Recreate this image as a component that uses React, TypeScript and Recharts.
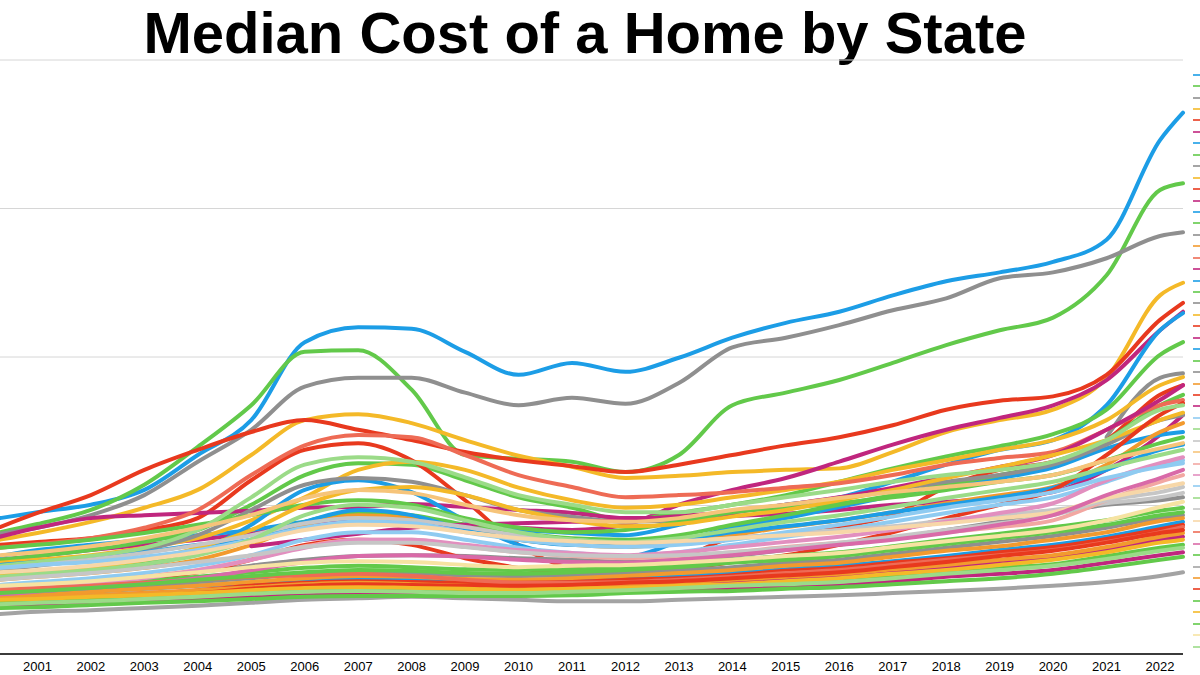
import { LineChart, Line, XAxis, YAxis, CartesianGrid } from "recharts";

// sample points: left edge, mid-year 2001..2022, right edge
const samplePoints = [
  2000.8, 2001.5, 2002.5, 2003.5, 2004.5, 2005.5, 2006.5, 2007.5, 2008.5, 2009.5, 2010.5, 2011.5,
  2012.5, 2013.5, 2014.5, 2015.5, 2016.5, 2017.5, 2018.5, 2019.5, 2020.5, 2021.5, 2022.5, 2022.93,
];
const yearTicks = [
  2001.5, 2002.5, 2003.5, 2004.5, 2005.5, 2006.5, 2007.5, 2008.5, 2009.5, 2010.5, 2011.5,
  2012.5, 2013.5, 2014.5, 2015.5, 2016.5, 2017.5, 2018.5, 2019.5, 2020.5, 2021.5, 2022.5,
];
const valueTicks = [0, 200, 400, 600, 800];

// median home value, $k
const hawaii = [183, 191, 201, 221, 268, 315, 420, 440, 438, 407, 376, 392, 380, 399, 426, 446, 461, 483, 502, 514, 528, 558, 692, 729];
const california = [164, 175, 194, 228, 279, 335, 407, 409, 356, 268, 263, 259, 245, 268, 335, 352, 369, 392, 416, 436, 453, 510, 625, 634];
const dc = [162, 170, 187, 214, 259, 302, 360, 372, 372, 352, 335, 345, 337, 365, 413, 426, 443, 463, 479, 506, 514, 533, 563, 568];
const massachusetts = [154, 163, 178, 197, 221, 268, 315, 323, 311, 288, 267, 252, 237, 240, 245, 248, 250, 272, 299, 315, 329, 372, 483, 500];
const washington = [171, 190, 214, 248, 275, 299, 315, 302, 288, 272, 261, 253, 245, 255, 268, 281, 292, 308, 329, 341, 347, 376, 450, 473];
const utah = [127, 132, 140, 147, 154, 163, 174, 180, 180, 174, 170, 167, 174, 201, 221, 237, 259, 282, 302, 318, 335, 369, 436, 461];
const colorado = [132, 140, 147, 154, 160, 167, 178, 183, 180, 170, 167, 163, 160, 174, 191, 201, 211, 232, 255, 275, 288, 335, 436, 459];
const oregon = [127, 132, 140, 151, 167, 201, 241, 257, 255, 234, 211, 197, 180, 190, 201, 214, 232, 250, 266, 280, 296, 329, 403, 420];
const montana = [null, null, null, null, null, null, null, null, null, null, null, null, null, null, null, null, null, null, null, null, null, 292, 372, 378];
const nevada = [147, 151, 156, 167, 183, 234, 275, 284, 261, 207, 147, 116, 110, 127, 156, 160, 171, 187, 225, 248, 259, 288, 349, 362];
const maryland = [143, 148, 156, 170, 194, 241, 281, 295, 292, 268, 241, 225, 211, 214, 218, 224, 230, 241, 255, 264, 272, 302, 335, 342];
const newMexico = [123, 127, 133, 143, 156, 180, 211, 248, 259, 248, 224, 207, 197, 201, 211, 221, 232, 248, 261, 275, 288, 315, 362, 373];
const connecticut = [119, 124, 132, 143, 167, 211, 255, 265, 259, 238, 214, 201, 191, 191, 201, 211, 221, 232, 241, 248, 259, 288, 329, 335];
const virginia = [113, 119, 127, 140, 160, 194, 228, 237, 232, 214, 194, 185, 178, 180, 191, 201, 210, 221, 232, 241, 255, 282, 315, 322];
const arizona = [102, 106, 113, 120, 137, 174, 221, 234, 218, 180, 147, 133, 131, 151, 170, 183, 198, 213, 228, 237, 251, 277, 295, 299];
const idaho = [null, null, null, null, null, 145, 154, 162, 170, 174, 176, 178, 180, 186, 191, 201, 211, 224, 238, 252, 268, 302, 342, 362];
const newHampshire = [106, 110, 116, 124, 136, 154, 178, 191, 187, 174, 163, 156, 154, 160, 174, 187, 201, 214, 228, 241, 257, 288, 335, 349];
const florida = [100, 104, 109, 116, 127, 147, 174, 187, 183, 167, 154, 147, 144, 151, 160, 171, 180, 191, 203, 214, 225, 255, 299, 311];
const newYork = [158, 170, 183, 187, 190, 193, 197, 198, 202, 198, 194, 190, 183, 183, 186, 189, 194, 201, 205, 210, 218, 248, 295, 322];
const delaware = [93, 97, 102, 109, 119, 133, 154, 164, 164, 154, 143, 136, 132, 137, 147, 158, 167, 178, 190, 201, 211, 232, 255, 261];
const newJersey = [143, 147, 154, 163, 174, 187, 201, 207, 201, 183, 170, 164, 167, 178, 191, 197, 203, 211, 221, 232, 241, 261, 284, 292];
const alaska = [133, 137, 145, 156, 170, 187, 210, 221, 217, 201, 187, 180, 178, 183, 194, 201, 210, 218, 225, 232, 241, 261, 277, 284];
const maine = [86, 90, 96, 102, 113, 127, 143, 154, 154, 147, 140, 136, 133, 137, 144, 151, 158, 167, 178, 190, 203, 234, 257, 265];
const vermont = [79, 84, 89, 94, 102, 113, 124, 132, 133, 131, 127, 124, 123, 127, 133, 140, 147, 154, 163, 174, 187, 214, 237, 248];
const minnesota = [89, 93, 97, 104, 113, 127, 145, 154, 154, 145, 137, 132, 129, 132, 137, 144, 150, 156, 164, 171, 180, 207, 232, 241];
const illinois = [110, 113, 119, 127, 137, 151, 167, 174, 172, 164, 156, 152, 150, 152, 156, 160, 164, 170, 176, 183, 191, 210, 224, 230];
const pennsylvania = [116, 120, 127, 136, 147, 160, 176, 183, 180, 171, 160, 154, 150, 151, 156, 162, 167, 172, 180, 187, 194, 203, 211, 217];
const wyoming = [86, 90, 96, 102, 110, 119, 127, 132, 133, 132, 129, 127, 124, 127, 132, 140, 147, 156, 167, 178, 189, 201, 207, 211];
const wisconsin = [116, 120, 124, 131, 140, 154, 170, 178, 176, 164, 154, 147, 144, 147, 154, 164, 174, 185, 197, 207, 218, 237, 252, 257];
const georgia = [104, 108, 113, 121, 133, 154, 187, 201, 197, 180, 164, 154, 151, 156, 167, 178, 187, 198, 210, 221, 232, 251, 268, 275];
const rhodeIsland = [106, 110, 117, 127, 143, 167, 201, 221, 225, 214, 194, 180, 172, 175, 185, 194, 207, 221, 237, 252, 268, 288, 315, 325];
const tennessee = [90, 93, 97, 102, 110, 127, 147, 154, 147, 129, 116, 106, 104, 113, 124, 133, 147, 164, 183, 201, 221, 268, 322, 338];
const michigan = [120, 124, 129, 137, 147, 154, 178, 194, 187, 167, 154, 147, 147, 154, 164, 172, 180, 191, 201, 211, 224, 248, 275, 282];
const texas = [100, 104, 109, 116, 124, 133, 144, 150, 150, 144, 137, 133, 132, 133, 137, 143, 150, 158, 167, 176, 187, 207, 218, 225];
const northCarolina = [86, 89, 93, 98, 104, 110, 116, 119, 117, 114, 113, 114, 117, 121, 127, 132, 137, 145, 154, 162, 171, 180, 193, 197];
const southDakota = [82, 85, 89, 94, 100, 105, 110, 113, 112, 109, 108, 110, 113, 117, 123, 127, 132, 140, 148, 156, 164, 174, 187, 191];
const northDakota = [92, 94, 98, 104, 110, 117, 123, 125, 124, 120, 117, 119, 120, 123, 127, 132, 136, 144, 152, 159, 167, 180, 198, 205];
const missouri = [81, 84, 88, 92, 97, 102, 108, 110, 109, 106, 105, 106, 109, 113, 117, 123, 127, 135, 143, 151, 159, 170, 183, 187];
const nebraska = [77, 79, 84, 88, 92, 97, 102, 105, 104, 101, 100, 102, 105, 109, 113, 119, 123, 131, 139, 145, 154, 164, 179, 183];
const kansas = [78, 81, 84, 88, 92, 96, 100, 102, 101, 98, 97, 100, 102, 105, 109, 114, 119, 125, 132, 140, 147, 158, 172, 178];
const indiana = [73, 75, 78, 82, 86, 92, 96, 98, 97, 96, 96, 97, 100, 102, 106, 112, 116, 123, 129, 137, 144, 155, 168, 174];
const southCarolina = [86, 89, 92, 96, 100, 104, 106, 108, 105, 100, 96, 96, 97, 100, 104, 109, 113, 120, 127, 133, 140, 151, 164, 171];
const iowa = [70, 73, 75, 78, 82, 88, 92, 94, 93, 92, 92, 93, 96, 98, 102, 106, 110, 117, 124, 132, 139, 150, 163, 167];
const louisiana = [75, 77, 79, 82, 86, 90, 94, 96, 94, 92, 90, 92, 93, 96, 100, 104, 108, 114, 120, 127, 133, 144, 158, 163];
const alabama = [66, 69, 71, 74, 78, 82, 86, 89, 88, 86, 86, 88, 90, 93, 97, 101, 105, 110, 117, 123, 129, 140, 154, 158];
const kentucky = [73, 74, 77, 79, 82, 86, 89, 90, 89, 88, 86, 88, 89, 92, 94, 98, 102, 108, 113, 120, 127, 137, 150, 154];
const ohio = [69, 70, 73, 75, 78, 82, 85, 86, 85, 84, 84, 85, 88, 90, 93, 97, 100, 105, 110, 116, 121, 132, 143, 147];
const oklahoma = [67, 69, 71, 74, 77, 81, 84, 85, 84, 82, 82, 84, 86, 89, 92, 94, 97, 102, 108, 113, 119, 128, 139, 143];
const arkansas = [63, 65, 67, 70, 73, 77, 79, 81, 81, 79, 79, 81, 84, 85, 88, 90, 93, 98, 104, 108, 113, 123, 133, 137];
const mississippi = [62, 63, 66, 69, 71, 74, 77, 78, 78, 78, 78, 79, 82, 84, 85, 88, 90, 94, 98, 102, 108, 117, 127, 131];
const westVirginia = [54, 57, 59, 62, 65, 69, 73, 75, 77, 75, 73, 71, 71, 73, 75, 77, 79, 82, 85, 88, 92, 97, 105, 110];

const BLUE = "#1c9de6";
const GREEN = "#62c94a";
const GRAY = "#8f8f8f";
const YELLOW = "#f4b928";
const RED = "#e8391e";
const MAGENTA = "#c0267e";
const ORANGE = "#f29a2e";
const SALMON = "#ee6b55";
const LBLUE = "#8fcbf1";
const LGREEN = "#9bdb88";
const LGRAY = "#c6c6c6";
const LYELLOW = "#f6e3a2";
const PEACH = "#f7d7a8";
const LPINK = "#f2a7a2";
const PINK = "#e28fbf";
const LORANGE = "#f6c47a";

const series = [
  { name: "Hawaii", color: BLUE, values: hawaii },
  { name: "California", color: GREEN, values: california },
  { name: "District of Columbia", color: GRAY, values: dc },
  { name: "Massachusetts", color: YELLOW, values: massachusetts },
  { name: "Washington", color: RED, values: washington },
  { name: "Utah", color: MAGENTA, values: utah },
  { name: "Colorado", color: BLUE, values: colorado },
  { name: "Oregon", color: GREEN, values: oregon },
  { name: "Montana", color: GRAY, values: montana },
  { name: "New Mexico", color: YELLOW, values: newMexico },
  { name: "Nevada", color: RED, values: nevada },
  { name: "New York", color: MAGENTA, values: newYork },
  { name: "Arizona", color: BLUE, values: arizona },
  { name: "New Hampshire", color: GREEN, values: newHampshire },
  { name: "Virginia", color: GRAY, values: virginia },
  { name: "Florida", color: ORANGE, values: florida },
  { name: "Maryland", color: SALMON, values: maryland },
  { name: "Idaho", color: MAGENTA, values: idaho },
  { name: "Michigan", color: BLUE, values: michigan },
  { name: "New Jersey", color: GREEN, values: newJersey },
  { name: "Wyoming", color: GRAY, values: wyoming },
  { name: "Rhode Island", color: YELLOW, values: rhodeIsland },
  { name: "Tennessee", color: RED, values: tennessee },
  { name: "Alabama", color: MAGENTA, values: alabama },
  { name: "Kansas", color: BLUE, values: kansas },
  { name: "North Carolina", color: GREEN, values: northCarolina },
  { name: "Missouri", color: GRAY, values: missouri },
  { name: "Nebraska", color: ORANGE, values: nebraska },
  { name: "Indiana", color: RED, values: indiana },
  { name: "Arkansas", color: MAGENTA, values: arkansas },
  { name: "Delaware", color: LBLUE, values: delaware },
  { name: "Connecticut", color: LGREEN, values: connecticut },
  { name: "Pennsylvania", color: LGRAY, values: pennsylvania },
  { name: "Alaska", color: LORANGE, values: alaska },
  { name: "Minnesota", color: LPINK, values: minnesota },
  { name: "Maine", color: PINK, values: maine },
  { name: "Wisconsin", color: LBLUE, values: wisconsin },
  { name: "Georgia", color: LGREEN, values: georgia },
  { name: "Texas", color: LGRAY, values: texas },
  { name: "Illinois", color: PEACH, values: illinois },
  { name: "South Carolina", color: SALMON, values: southCarolina },
  { name: "Vermont", color: "#d96aa8", values: vermont },
  { name: "South Dakota", color: GREEN, values: southDakota },
  { name: "West Virginia", color: "#a3a3a3", values: westVirginia },
  { name: "Louisiana", color: ORANGE, values: louisiana },
  { name: "Iowa", color: RED, values: iowa },
  { name: "Ohio", color: GREEN, values: ohio },
  { name: "Kentucky", color: YELLOW, values: kentucky },
  { name: "Mississippi", color: GREEN, values: mississippi },
  { name: "North Dakota", color: LYELLOW, values: northDakota },
  { name: "Oklahoma", color: LGREEN, values: oklahoma },
];

const rows = samplePoints.map((t, i) => {
  const row: Record<string, number | null> = { t };
  series.forEach((s) => {
    row[s.name] = s.values[i];
  });
  return row;
});

const FONT = '"Liberation Sans", Arial, Helvetica, sans-serif';

export default function App() {
  return (
    <div style={{ position: "absolute", left: 0, top: 0, width: 1200, height: 675, background: "#fff", fontFamily: FONT, overflow: "hidden" }}>
      <div
        style={{
          position: "absolute",
          left: 0,
          top: 3,
          width: 1170,
          textAlign: "center",
          fontSize: 58,
          lineHeight: "60px",
          fontWeight: 700,
          color: "#000",
          whiteSpace: "nowrap",
        }}
      >
        Median Cost of a Home by State
      </div>

      <LineChart width={1200} height={675} data={rows} margin={{ top: 60, right: 17, bottom: 0, left: 0 }}>
        <CartesianGrid vertical={false} stroke="#d6d6d6" />
        <XAxis
          dataKey="t"
          type="number"
          domain={[2000.8, 2022.93]}
          ticks={yearTicks}
          tickFormatter={(v) => String(Math.floor(v))}
          height={21}
          tickLine={false}
          axisLine={{ stroke: "#000", strokeWidth: 1.5 }}
          tick={{ fill: "#000", fontSize: 13, fontFamily: FONT }}
          interval={0}
        />
        <YAxis hide domain={[0, 800]} ticks={valueTicks} />
        {series.map((s) => (
          <Line
            key={s.name}
            type="monotone"
            dataKey={s.name}
            stroke={s.color}
            strokeWidth={4}
            strokeLinecap="round"
            strokeLinejoin="round"
            dot={false}
            activeDot={false}
            isAnimationActive={false}
          />
        ))}
      </LineChart>

      <div style={{ position: "absolute", left: 1193, top: 69 }}>
        {series.map((s) => (
          <div key={s.name} style={{ height: 11.44, display: "flex", alignItems: "center" }}>
            <div style={{ width: 8, height: 2, background: s.color, opacity: 0.8 }} />
          </div>
        ))}
      </div>
    </div>
  );
}
